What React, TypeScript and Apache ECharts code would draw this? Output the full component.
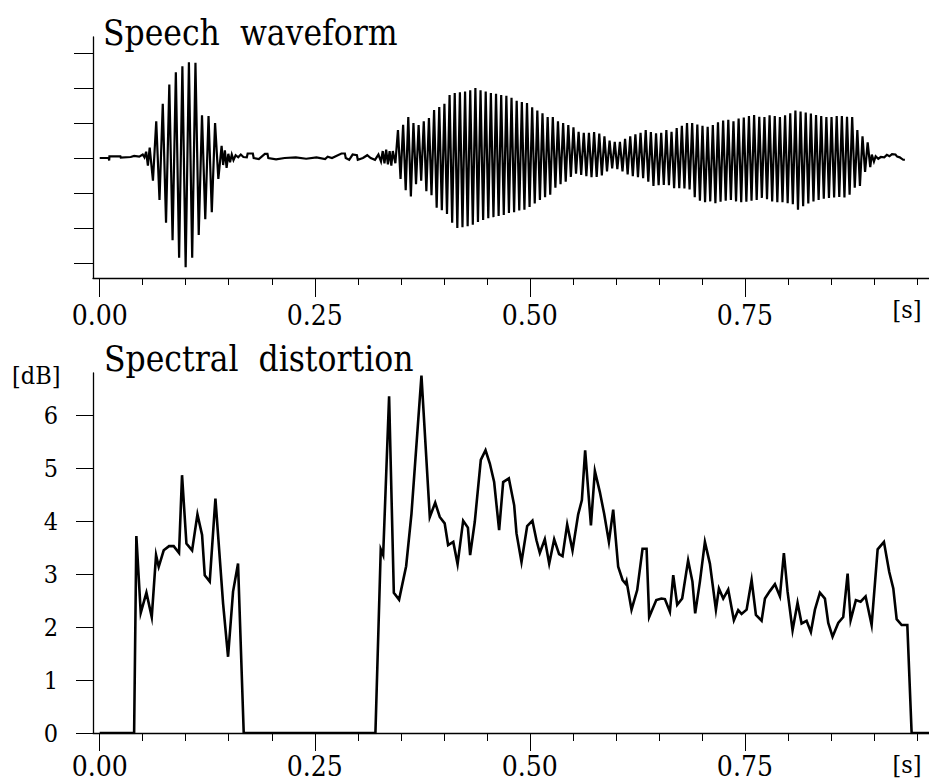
import { useEffect, useRef } from "react";
import * as echarts from "echarts";

// ---------- axis data ----------
const X_MIN = -0.0078;
const X_MAX = 0.964;
const xMajorTicks = [0, 0.25, 0.5, 0.75];
const xMinorTicks = [0, 0.05, 0.1, 0.15, 0.2, 0.25, 0.3, 0.35, 0.4, 0.45, 0.5, 0.55, 0.6, 0.65, 0.7, 0.75, 0.8, 0.85, 0.9, 0.95];
const waveTicks = [-3, -2, -1, 0, 1, 2, 3];
const dbTicks = [0, 1, 2, 3, 4, 5, 6];

// ---------- speech waveform ----------
const preSilence: [number, number][] = [
  [0, 0], [0.0105, 0], [0.011, -0.07], [0.0113, 0.05], [0.024, 0.05], [0.0245, 0.01], [0.036, 0.03],
  [0.04, 0.06], [0.046, 0.04], [0.05, 0.1], [0.052, 0.02], [0.054, 0.18], [0.056, -0.22],
];
const seg1Start = 0.0581;
const seg1Step = 0.0038;
const seg1Peaks = [
  0.3, -0.65, 1.05, -1.2, 1.55, -1.85, 2.1, -2.35, 2.45, -2.85, 2.62, -3.12,
  2.74, -2.85, 2.72, -2.2, 1.22, -1.75, 1.2, -1.55, 1.0, -0.6, 0.35,
];
const midSilence: [number, number][] = [
  [0.1435, -0.2], [0.1455, 0.22], [0.1475, -0.28], [0.1495, 0.12], [0.1515, -0.12], [0.1535, 0.1],
  [0.1555, -0.06], [0.158, 0.08], [0.161, 0.02], [0.164, 0.1], [0.167, 0.03], [0.171, 0.02],
  [0.172, 0.13], [0.178, 0.13], [0.179, 0.0], [0.185, -0.03], [0.192, 0.12], [0.195, 0.12],
  [0.196, 0.0], [0.205, -0.04], [0.215, 0.0], [0.228, 0.02], [0.24, -0.02], [0.252, 0.02],
  [0.262, -0.03], [0.265, 0.04], [0.27, 0.0], [0.281, 0.13], [0.285, 0.13], [0.286, 0.0],
  [0.29, -0.05], [0.294, 0.1], [0.299, 0.08], [0.3, -0.05], [0.306, 0.0], [0.311, 0.08],
  [0.315, 0.0], [0.32, -0.05], [0.324, 0.1], [0.327, -0.1], [0.329, 0.2], [0.331, -0.15],
  [0.333, 0.24], [0.335, -0.18], [0.337, 0.2], [0.339, -0.22],
];
const seg2Start = 0.3407;
const seg2Period = 0.006;
const seg2Top = [
  0.2, 0.8, 0.95, 1.17, 1.0, 0.94, 1.05, 1.14, 1.37, 1.46,
  1.55, 1.8, 1.86, 1.88, 1.9, 1.94, 2.0, 1.94, 1.9, 1.86,
  1.84, 1.8, 1.78, 1.72, 1.64, 1.6, 1.57, 1.45, 1.36, 1.28,
  1.17, 1.17, 1.05, 1.0, 0.94, 0.88, 0.75, 0.72, 0.72, 0.74,
  0.7, 0.62, 0.5, 0.46, 0.46, 0.55, 0.62, 0.68, 0.72, 0.8,
  0.74, 0.71, 0.72, 0.8, 0.75, 0.86, 0.92, 1.0, 1.0, 0.96,
  0.92, 0.89, 0.94, 1.02, 1.07, 1.09, 1.05, 1.13, 1.16, 1.2,
  1.23, 1.18, 1.17, 1.22, 1.2, 1.17, 1.22, 1.28, 1.36, 1.33,
  1.3, 1.27, 1.23, 1.2, 1.17, 1.17, 1.2, 1.2, 1.18, 1.17,
  0.8, 0.62, 0.45,
];
const seg2Bottom = [
  -0.15, -0.6, -0.92, -1.1, -0.75, -0.65, -0.95, -1.06, -1.42, -1.49,
  -1.6, -1.85, -2.0, -1.98, -1.95, -1.91, -1.83, -1.77, -1.72, -1.69,
  -1.66, -1.63, -1.57, -1.55, -1.5, -1.48, -1.4, -1.3, -1.2, -1.12,
  -1.05, -0.85, -0.75, -0.68, -0.54, -0.45, -0.48, -0.52, -0.55, -0.54,
  -0.5, -0.38, -0.3, -0.32, -0.38, -0.47, -0.52, -0.55, -0.58, -0.68,
  -0.8, -0.78, -0.77, -0.78, -0.86, -0.86, -0.87, -0.9, -1.12, -1.22,
  -1.26, -1.24, -1.29, -1.25, -1.22, -1.2, -1.24, -1.26, -1.25, -1.22,
  -1.2, -1.14, -1.18, -1.24, -1.26, -1.26, -1.29, -1.32, -1.48, -1.38,
  -1.3, -1.24, -1.2, -1.16, -1.14, -1.13, -1.11, -1.13, -1.05, -0.85,
  -0.8, -0.4, -0.26,
];
const postSilence: [number, number][] = [
  [0.8975, 0.1], [0.9, -0.1], [0.902, 0.05], [0.905, -0.02], [0.908, 0.03], [0.912, 0.02],
  [0.915, 0.09], [0.918, 0.05], [0.921, 0.11], [0.925, 0.1], [0.927, 0.04], [0.93, 0.02],
  [0.934, -0.05], [0.936, -0.05],
];

// ---------- spectral distortion ----------
const distTime = [
  0.0, 0.04, 0.0426, 0.0477, 0.0543, 0.0605, 0.0655, 0.0686, 0.0744, 0.0806,
  0.086, 0.0922, 0.0957, 0.1008, 0.1074, 0.1136, 0.119, 0.1221, 0.1279, 0.1345,
  0.1434, 0.1492, 0.155, 0.1608, 0.1674, 0.3205, 0.3267, 0.3295, 0.3364, 0.3419,
  0.348, 0.3562, 0.3624, 0.374, 0.3837, 0.39, 0.3953, 0.401, 0.405, 0.411,
  0.416, 0.4225, 0.428, 0.4306, 0.436, 0.443, 0.4485, 0.4535, 0.4585, 0.4643,
  0.469, 0.4756, 0.4818, 0.4845, 0.4903, 0.4969, 0.503, 0.5077, 0.5116, 0.5174,
  0.5225, 0.5283, 0.534, 0.538, 0.5434, 0.5496, 0.5562, 0.5605, 0.5643, 0.571,
  0.5756, 0.5814, 0.5864, 0.5919, 0.5969, 0.6027, 0.6078, 0.6113, 0.6124, 0.6182,
  0.6248, 0.631, 0.6357, 0.6387, 0.647, 0.653, 0.657, 0.6628, 0.6667, 0.6713,
  0.6771, 0.684, 0.689, 0.6922, 0.6977, 0.7035, 0.7093, 0.7163, 0.7198, 0.7248,
  0.7306, 0.7372, 0.7422, 0.7461, 0.752, 0.7578, 0.7628, 0.7694, 0.7733, 0.779,
  0.7849, 0.7907, 0.7953, 0.7996, 0.8054, 0.8112, 0.8159, 0.8217, 0.8267, 0.8314,
  0.8372, 0.843, 0.8469, 0.8519, 0.8585, 0.8643, 0.8694, 0.8729, 0.879, 0.8845,
  0.8903, 0.8973, 0.9043, 0.9116, 0.9178, 0.9225, 0.9264, 0.9322, 0.9388, 0.9438,
  0.964,
];
const distDb = [
  0, 0, 3.72, 2.27, 2.65, 2.19, 3.36, 3.14, 3.45, 3.53,
  3.53, 3.4, 4.87, 3.58, 3.45, 4.13, 3.74, 2.98, 2.86, 4.43,
  2.45, 1.44, 2.67, 3.2, 0, 0, 3.47, 3.36, 6.36, 2.65,
  2.52, 3.15, 4.14, 6.75, 4.08, 4.35, 4.08, 3.96, 3.55, 3.61,
  3.19, 4.01, 3.88, 3.36, 3.99, 5.16, 5.34, 5.09, 4.74, 3.83,
  4.74, 4.81, 4.3, 3.77, 3.23, 3.91, 4.01, 3.64, 3.4, 3.66,
  3.2, 3.66, 3.38, 3.34, 3.94, 3.45, 4.13, 4.4, 5.34, 3.92,
  4.95, 4.55, 4.14, 3.61, 4.22, 3.14, 2.89, 2.82, 2.87, 2.33,
  2.7, 3.48, 3.48, 2.19, 2.51, 2.54, 2.53, 2.29, 2.98, 2.42,
  2.54, 3.26, 2.86, 2.26, 2.86, 3.61, 3.2, 2.33, 2.73, 2.54,
  2.71, 2.13, 2.32, 2.25, 2.33, 2.89, 2.23, 2.12, 2.54, 2.68,
  2.81, 2.58, 3.4, 2.67, 1.94, 2.46, 2.07, 2.12, 1.91, 2.33,
  2.65, 2.54, 2.08, 1.82, 2.08, 2.19, 3.01, 2.13, 2.51, 2.48,
  2.58, 2.04, 3.47, 3.61, 3.04, 2.73, 2.15, 2.04, 2.04, 0,
  0,
];

const FONT = "DejaVu Serif Condensed, DejaVu Serif";
const AXIS_LINE = { color: "#000", width: 1.3 };
const TICK_LINE = { color: "#000", width: 1 };

function buildWave(): [number, number][] {
  const pts: [number, number][] = [];
  preSilence.forEach((p) => pts.push(p));
  seg1Peaks.forEach((v, i) => pts.push([seg1Start + i * seg1Step, v]));
  midSilence.forEach((p) => pts.push(p));
  seg2Top.forEach((top, k) => {
    pts.push([seg2Start + k * seg2Period, top]);
    pts.push([seg2Start + (k + 0.5) * seg2Period, seg2Bottom[k]]);
  });
  postSilence.forEach((p) => pts.push(p));
  return pts;
}

function xAxes(gridIndex: number, minorLen: number, majorLen: number, labelMargin: number) {
  const base = {
    type: "value" as const,
    gridIndex,
    min: X_MIN,
    max: X_MAX,
    position: "bottom" as const,
    splitLine: { show: false },
  };
  return [
    {
      ...base,
      axisLine: { show: true, onZero: false, lineStyle: AXIS_LINE },
      axisTick: { show: true, customValues: xMinorTicks, length: minorLen, lineStyle: TICK_LINE },
      axisLabel: {
        show: true,
        customValues: xMajorTicks,
        formatter: (v: number) => v.toFixed(2),
        margin: labelMargin,
        fontSize: 28,
        lineHeight: 22,
        fontFamily: FONT,
        color: "#000",
      },
    },
    {
      ...base,
      axisLine: { show: false, onZero: false },
      axisTick: { show: true, customValues: xMajorTicks, length: majorLen, lineStyle: TICK_LINE },
      axisLabel: { show: false },
    },
  ];
}

export default function App() {
  const ref = useRef<HTMLDivElement>(null);
  useEffect(() => {
    if (!ref.current) return;
    const chart = echarts.init(ref.current, undefined, { renderer: "svg" });
    const label = (text: string, x: number, y: number, size: number, align: string, lineHeight?: number) => ({
      type: "text",
      x,
      y,
      style: {
        text,
        fontSize: size,
        fontFamily: FONT,
        fill: "#000",
        align,
        verticalAlign: "middle",
        ...(lineHeight ? { lineHeight } : {}),
      },
    });
    const option = {
      animation: false,
      backgroundColor: "#fff",
      grid: [
        { left: 93, top: 37, right: 0, height: 241, containLabel: false, outerBoundsMode: "none" },
        { left: 93, top: 373, right: 0, height: 360, containLabel: false, outerBoundsMode: "none" },
      ],
      xAxis: [...xAxes(0, 7, 19, 26), ...xAxes(1, 8, 18, 22)],
      yAxis: [
        {
          type: "value",
          gridIndex: 0,
          min: -3.43,
          max: 3.46,
          position: "left",
          axisLine: { show: true, onZero: false, lineStyle: AXIS_LINE },
          axisTick: { show: true, customValues: waveTicks, length: 19, lineStyle: TICK_LINE },
          axisLabel: { show: false },
          splitLine: { show: false },
        },
        {
          type: "value",
          gridIndex: 1,
          min: 0,
          max: 6.8,
          position: "left",
          axisLine: { show: true, onZero: false, lineStyle: AXIS_LINE },
          axisTick: { show: true, customValues: dbTicks, length: 17, lineStyle: TICK_LINE },
          axisLabel: {
            show: true,
            customValues: dbTicks,
            margin: 35,
            fontSize: 25,
            fontFamily: FONT,
            color: "#000",
          },
          splitLine: { show: false },
        },
      ],
      series: [
        {
          type: "line",
          xAxisIndex: 0,
          yAxisIndex: 0,
          data: buildWave(),
          showSymbol: false,
          symbol: "none",
          lineStyle: { color: "#000", width: 2.2, join: "miter", miterLimit: 4 },
          silent: true,
        },
        {
          type: "line",
          xAxisIndex: 2,
          yAxisIndex: 1,
          data: distTime.map((t, i) => [t, distDb[i]]),
          showSymbol: false,
          symbol: "none",
          lineStyle: { color: "#000", width: 2.6, join: "miter", miterLimit: 8 },
          silent: true,
        },
      ],
      graphic: [
        label("Speech  waveform", 103, 33, 35, "left"),
        label("Spectral  distortion", 104, 359, 35, "left"),
        label("[dB]", 12, 375, 25, "left"),
        label("[s]", 907, 309, 25, "center"),
        label("[s]", 907, 764, 25, "center", 22),
      ],
    };
    chart.setOption(option as any);
    return () => chart.dispose();
  }, []);
  return <div ref={ref} style={{ position: "absolute", left: 0, top: 0, width: 929, height: 781 }} />;
}
